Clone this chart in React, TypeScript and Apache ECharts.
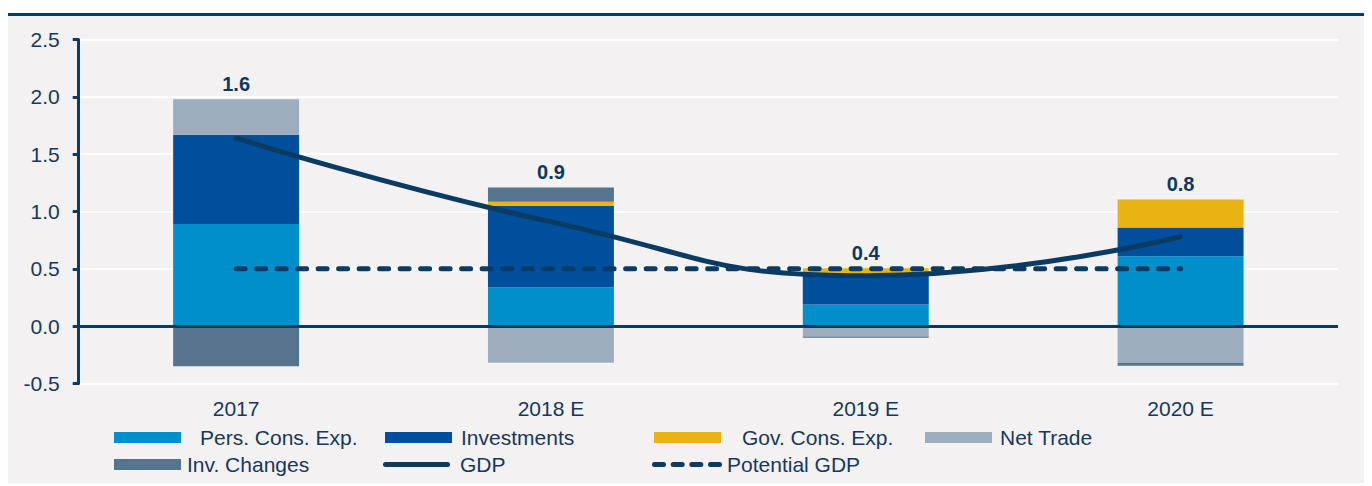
import React, { useEffect, useRef } from "react";
import * as echarts from "echarts";

const categories = ["2017", "2018 E", "2019 E", "2020 E"];
const persCons = [0.89, 0.34, 0.19, 0.61];
const investments = [0.78, 0.71, 0.25, 0.25];
const govCons = [0, 0.035, 0.065, 0.245];
const netTrade = [0.31, -0.32, -0.09, -0.32];
const invChanges = [-0.35, 0.125, -0.01, -0.025];
const gdp = [1.64, 0.91, 0.44, 0.78];
const potentialGdp = [0.5, 0.5, 0.5, 0.5];

const NAVY = "#0a3b62";
const TEXT = "#17385c";
const FONT = "'Liberation Sans', Arial, sans-serif";

const barSeries = [
  { name: "Pers. Cons. Exp.", data: persCons, color: "#008fca" },
  { name: "Investments", data: investments, color: "#004f9d" },
  { name: "Gov. Cons. Exp.", data: govCons, color: "#e9b314" },
  { name: "Net Trade", data: netTrade, color: "#9dadbe" },
  { name: "Inv. Changes", data: invChanges, color: "#56748e" },
];

const legendDefs = [
  { name: "Pers. Cons. Exp.", left: 106, row: 0, pad: 14 },
  { name: "Investments", left: 377, row: 0, pad: 4 },
  { name: "Gov. Cons. Exp.", left: 646, row: 0, pad: 16 },
  { name: "Net Trade", left: 917, row: 0, pad: 3 },
  { name: "Inv. Changes", left: 106, row: 1, pad: 1 },
  { name: "GDP", left: 375, row: 1, pad: 5 },
  { name: "Potential GDP", left: 644, row: 1, pad: 0 },
];

const solidIcon = "path://M2.5,0 H64.5 A2.5,2.5 0 0 1 64.5,5 H2.5 A2.5,2.5 0 0 1 2.5,0 Z";
const dashedIcon =
  "path://M2.5,0 H11.5 A2.5,2.5 0 0 1 11.5,5 H2.5 A2.5,2.5 0 0 1 2.5,0 Z " +
  "M21.2,0 H30.2 A2.5,2.5 0 0 1 30.2,5 H21.2 A2.5,2.5 0 0 1 21.2,0 Z " +
  "M39.8,0 H48.8 A2.5,2.5 0 0 1 48.8,5 H39.8 A2.5,2.5 0 0 1 39.8,0 Z " +
  "M58.5,0 H67.5 A2.5,2.5 0 0 1 67.5,5 H58.5 A2.5,2.5 0 0 1 58.5,0 Z";

export default function App() {
  const ref = useRef<HTMLDivElement>(null);
  useEffect(() => {
    document.body.style.overflow = "hidden";
    const chart = echarts.init(ref.current!, null, { renderer: "svg" });
    const posTotals = categories.map((_, i) =>
      barSeries.reduce((s, b) => s + Math.max(0, b.data[i]), 0)
    );
    const series: any[] = barSeries.map((b, idx) => ({
      name: b.name,
      type: "bar",
      stack: "total",
      barWidth: "40%",
      data: b.data,
      itemStyle: { color: b.color },
      z: 2,
      ...(idx === 0
        ? {
            markLine: {
              silent: true,
              symbol: "none",
              label: { show: false },
              lineStyle: { color: NAVY, width: 3, type: "solid" },
              data: [{ yAxis: 0 }],
              z: 5,
            },
          }
        : {}),
    }));
    series.push({
      name: "GDP",
      type: "line",
      data: gdp,
      smooth: 0.5,
      symbol: "none",
      lineStyle: { color: NAVY, width: 5, cap: "round" },
      itemStyle: { color: NAVY },
      z: 6,
    });
    series.push({
      name: "Potential GDP",
      type: "line",
      data: potentialGdp,
      symbol: "none",
      lineStyle: { color: NAVY, width: 5, type: [9, 11.5], cap: "round" },
      itemStyle: { color: NAVY },
      z: 6,
    });
    series.push({
      name: "labels",
      type: "scatter",
      data: posTotals,
      symbolSize: 0,
      itemStyle: { color: "#0b385e", opacity: 1 },
      silent: true,
      z: 7,
      label: {
        show: true,
        position: "top",
        distance: 5,
        formatter: (p: any) => gdp[p.dataIndex].toFixed(1),
        color: "#0b385e",
        opacity: 1,
        fontFamily: FONT,
        fontWeight: "bold",
        fontSize: 20,
      },
    });

    const legends = legendDefs.map((d) => {
      const isLine = d.name === "GDP" || d.name === "Potential GDP";
      const base: any = {
        data: [d.name],
        left: d.left,
        top: d.row === 0 ? 411 : 438,
        padding: 0,
        itemWidth: isLine ? (d.name === "GDP" ? 67 : 70) : 67,
        itemHeight: isLine ? 5 : 11,
        icon: isLine ? (d.name === "GDP" ? solidIcon : dashedIcon) : "rect",
        textStyle: {
          color: TEXT,
          fontFamily: FONT,
          fontSize: 21,
          padding: [0, 0, 0, d.pad],
        },
        selectedMode: false,
      };
      if (isLine) base.itemStyle = { color: NAVY };
      return base;
    });

    chart.setOption({
      animation: false,
      backgroundColor: "transparent",
      grid: { left: 70.7, right: 26, top: 23.5, bottom: 99.5 },
      legend: legends,
      xAxis: {
        type: "category",
        data: categories,
        axisLine: { show: false },
        axisTick: { show: false },
        axisLabel: { color: TEXT, fontFamily: FONT, fontSize: 21, margin: 14 },
      },
      yAxis: {
        type: "value",
        min: -0.5,
        max: 2.5,
        interval: 0.5,
        axisLine: { show: true, lineStyle: { color: NAVY, width: 3 } },
        axisTick: { show: true, length: 6, lineStyle: { color: NAVY, width: 3 } },
        axisLabel: {
          color: TEXT,
          fontFamily: FONT,
          fontSize: 21,
          margin: 19,
          formatter: (v: number) => v.toFixed(1),
        },
        splitLine: { show: true, lineStyle: { color: "#ffffff", width: 2 } },
      },
      series,
    });
    return () => chart.dispose();
  }, []);

  return (
    <div
      style={{
        marginTop: 5,
        borderTop: `3px solid ${NAVY}`,
        background: "#f3f1f2",
        height: 467,
      }}
    >
      <div ref={ref} style={{ width: "100%", height: 467 }} />
    </div>
  );
}
